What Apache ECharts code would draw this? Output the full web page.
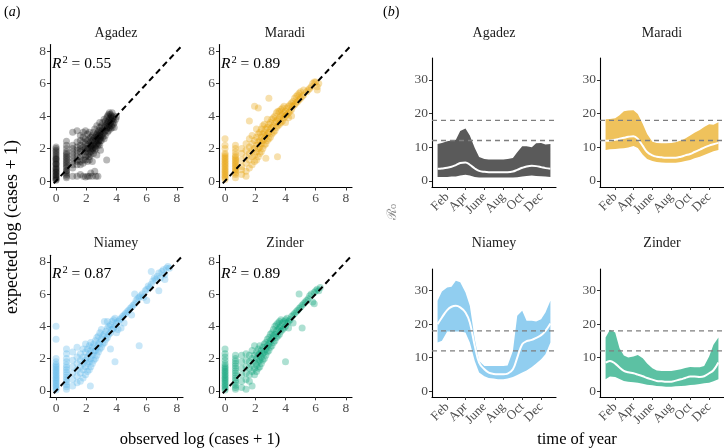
<!DOCTYPE html>
<html><head><meta charset="utf-8">
<script src="https://cdn.jsdelivr.net/npm/echarts@6/dist/echarts.min.js"></script>
<style>html,body{margin:0;padding:0;background:#fff}#c{width:724px;height:448px}</style>
</head><body><div id="c"></div>
<script>
// ---------- DATA ----------
const sites = ['Agadez', 'Maradi', 'Niamey', 'Zinder'];
const r2Values = ['0.55', '0.89', '0.87', '0.89'];
const scatterTicks = [0, 2, 4, 6, 8];
const r0Ticks = [0, 10, 20, 30];
const monthTicks = [32, 91, 152, 213, 274, 335];
const monthLabels = ['Feb', 'Apr', 'June', 'Aug', 'Oct', 'Dec'];
const thresholds = [12, 18];

// observed vs expected log(cases+1)
const agadezPoints = [
[0,0.05],[0,0.1],[0,0.15],[0,0.2],[0,0.3],[0,0.35],[0,0.4],[0,0.5],[0,0.55],[0,0.6],[0,0.7],[0,0.75],[0,0.8],[0,0.9],[0,1.0],[0,1.05],[0,1.1],[0,1.2],[0,1.3],[0,1.35],[0,1.4],[0,1.5],[0,1.6],[0,1.7],[0,1.8],[0,1.9],[0,2.0],[0,2.1],
[0.69,0.2],[0.69,0.3],[0.69,0.4],[0.69,0.5],[0.69,0.6],[0.69,0.65],[0.69,0.8],[0.69,0.9],[0.69,1.0],[0.69,1.1],[0.69,1.2],[0.69,1.3],[0.69,1.4],[0.69,1.5],[0.69,1.6],[0.69,1.7],[0.69,1.8],[0.69,2.0],[0.69,2.2],[0.69,2.45],
[1.1,0.3],[1.1,0.8],[1.1,1.2],[1.1,1.4],[1.1,1.6],[1.1,1.8],[1.1,2.0],[1.1,2.2],[1.1,1.0],[1.1,3.0],
[1.39,0.3],[1.39,1.0],[1.39,1.3],[1.39,1.5],[1.39,1.7],[1.39,1.9],[1.39,2.1],[1.39,2.4],[1.39,3.1],[1.39,1.2],
[1.61,0.4],[1.61,1.2],[1.61,1.5],[1.61,1.8],[1.61,2.0],[1.61,2.2],[1.61,2.5],[1.61,1.0],[1.61,2.8],
[1.79,0.3],[1.79,1.3],[1.79,1.6],[1.79,1.9],[1.79,2.1],[1.79,2.4],[1.79,2.7],[1.79,3.0],[1.79,1.1],
[1.95,0.25],[1.95,1.5],[1.95,1.8],[1.95,2.0],[1.95,2.3],[1.95,1.3],[1.95,2.6],[1.95,3.1],
[2.08,0.3],[2.08,1.6],[2.08,1.9],[2.08,2.2],[2.08,2.5],[2.08,2.0],[2.08,1.2],[2.08,2.9],
[2.2,0.3],[2.2,1.7],[2.2,2.0],[2.2,2.3],[2.2,1.5],[2.2,2.6],[2.2,3.0],[2.2,1.3],
[2.3,0.5],[2.3,1.8],[2.3,2.1],[2.3,2.4],[2.3,2.7],[2.3,2.2],[2.3,1.6],
[2.4,0.3],[2.4,1.9],[2.4,2.2],[2.4,2.5],[2.4,2.0],[2.4,2.8],[2.4,1.2],
[2.48,2.0],[2.48,2.3],[2.48,2.6],[2.48,1.7],[2.48,3.0],
[2.56,2.1],[2.56,2.4],[2.56,2.7],[2.56,0.6],[2.56,1.9],[2.56,3.2],
[2.64,0.3],[2.64,2.2],[2.64,2.5],[2.64,2.8],[2.64,2.0],
[2.7,2.3],[2.7,2.6],[2.7,2.9],[2.7,1.6],[2.7,3.4],
[2.77,2.4],[2.77,2.7],[2.77,2.2],[2.77,3.0],[2.77,0.3],
[2.83,2.5],[2.83,2.8],[2.83,3.1],[2.83,2.3],
[2.89,2.6],[2.89,2.9],[2.89,3.3],[2.89,2.2],[2.89,3.6],
[2.94,2.7],[2.94,3.0],[2.94,2.5],[2.94,1.9],
[3.0,2.8],[3.0,3.1],[3.0,3.4],[3.0,2.5],
[3.09,2.9],[3.09,3.2],[3.09,3.6],[3.09,2.7],
[3.18,3.0],[3.18,3.3],[3.18,2.6],[3.18,3.8],
[3.26,3.1],[3.26,3.4],[3.26,3.7],[3.26,2.8],
[3.35,3.2],[3.35,3.5],[3.35,1.3],[3.35,3.9],
[3.4,3.3],[3.4,3.6],[3.4,4.0],[3.4,3.0],
[3.47,3.4],[3.47,3.7],[3.47,4.1],[3.47,3.1],
[3.53,3.5],[3.53,3.8],[3.53,4.2],[3.53,3.3],
[3.6,3.6],[3.6,3.9],[3.6,3.2],[3.6,4.1],
[3.66,3.7],[3.66,4.0],[3.66,3.4],
[3.71,3.8],[3.71,3.3],[3.71,4.2],
[3.78,3.5],[3.78,3.9],[3.78,3.7],
[3.85,3.6],[3.85,4.0],[3.85,3.3],
[3.95,3.8],[4.0,3.95]
];
const maradiPoints = [
[0,0.1],[0,0.2],[0,0.3],[0,0.4],[0,0.5],[0,0.6],[0,0.7],[0,0.8],[0,0.9],[0,1.0],[0,1.1],[0,1.2],[0,1.3],[0,1.4],[0,1.5],[0,1.6],[0,1.7],[0,2.0],[0,2.2],[0,2.6],
[0.69,0.2],[0.69,0.4],[0.69,0.5],[0.69,0.6],[0.69,0.7],[0.69,0.8],[0.69,0.9],[0.69,1.0],[0.69,1.1],[0.69,1.2],[0.69,1.3],[0.69,1.4],[0.69,1.5],[0.69,1.6],[0.69,1.8],[0.69,2.0],[0.69,2.2],
[1.1,0.4],[1.1,0.9],[1.1,1.3],[1.1,1.7],[1.1,2.0],[1.1,0.7],[1.39,0.6],[1.39,1.1],[1.39,1.5],[1.39,1.9],[1.39,2.3],[1.39,0.3],
[1.61,0.8],[1.61,1.3],[1.61,1.7],[1.61,2.1],[1.61,2.6],[1.61,3.7],[1.79,1.0],[1.79,1.5],[1.79,1.9],[1.79,2.3],[1.79,2.8],
[1.95,1.2],[1.95,1.6],[1.95,2.0],[1.95,2.5],[1.95,4.6],[2.08,1.3],[2.08,1.8],[2.08,2.2],[2.08,2.7],[2.08,3.2],
[2.2,1.5],[2.2,2.0],[2.2,2.4],[2.2,2.9],[2.2,4.5],[2.3,1.7],[2.3,2.1],[2.3,2.5],[2.3,3.0],[2.4,1.8],[2.4,2.3],[2.4,2.7],[2.4,3.2],
[2.5,2.0],[2.5,2.5],[2.5,2.9],[2.5,3.4],[2.6,2.2],[2.6,2.6],[2.6,3.0],[2.6,3.5],[2.7,2.3],[2.7,2.8],[2.7,3.2],[2.7,1.4],
[2.8,2.5],[2.8,2.9],[2.8,3.3],[2.8,3.8],[2.9,2.6],[2.9,3.0],[2.9,3.5],[2.9,5.1],[3.0,2.7],[3.0,3.2],[3.0,3.6],
[3.1,2.9],[3.1,3.3],[3.1,3.8],[3.2,3.0],[3.2,3.4],[3.2,3.9],[3.3,3.1],[3.3,3.6],[3.3,4.0],[3.4,3.3],[3.4,3.7],[3.4,4.2],[3.47,1.5],
[3.5,3.4],[3.5,3.8],[3.5,4.3],[3.6,3.5],[3.6,3.9],[3.6,4.3],[3.7,3.6],[3.7,4.0],[3.7,4.4],[3.8,3.7],[3.8,4.1],[3.8,4.5],
[3.9,3.9],[3.9,4.2],[3.9,4.6],[4.0,4.0],[4.0,4.3],[4.0,3.6],[4.1,4.1],[4.1,4.5],[4.2,4.2],[4.2,4.6],[4.2,3.9],
[4.3,4.3],[4.3,4.7],[4.4,4.4],[4.4,4.8],[4.4,4.0],[4.5,4.6],[4.5,4.9],[4.6,4.7],[4.6,5.1],[4.7,4.8],[4.7,5.2],
[4.8,4.9],[4.8,5.3],[4.9,5.0],[4.9,5.4],[5.0,5.1],[5.0,5.5],[5.1,5.2],[5.2,5.3],[5.2,5.6],[5.4,5.5],[5.5,5.6],
[5.6,5.7],[5.7,5.8],[5.8,6.0],[5.9,6.1],[6.0,6.1],[6.1,5.8],[6.2,6.0],[6.1,5.6]
];
const niameyPoints = [
[0,0.05],[0,0.15],[0,0.25],[0,0.35],[0,0.45],[0,0.55],[0,0.65],[0,0.75],[0,0.85],[0,0.95],[0,1.05],[0,1.15],[0,1.25],[0,1.35],[0,1.45],[0,1.55],[0,1.65],[0,1.8],[0,2.0],[0,3.2],[0,4.0],
[0.69,0.1],[0.69,0.25],[0.69,0.4],[0.69,0.55],[0.69,0.7],[0.69,0.85],[0.69,1.0],[0.69,1.15],[0.69,1.3],[0.69,1.45],[0.69,1.6],[0.69,1.8],[0.69,2.0],[0.69,2.3],[0.69,2.6],
[1.1,0.3],[1.1,0.7],[1.1,1.1],[1.1,1.5],[1.1,1.9],[1.1,2.4],[1.39,0.5],[1.39,0.9],[1.39,1.3],[1.39,1.7],[1.39,2.1],[1.39,2.7],
[1.61,0.6],[1.61,1.1],[1.61,1.5],[1.61,1.9],[1.61,2.3],[1.79,0.8],[1.79,1.3],[1.79,1.7],[1.79,2.1],[1.79,2.6],
[1.95,1.0],[1.95,1.5],[1.95,1.9],[1.95,2.4],[1.95,2.9],[2.08,1.2],[2.08,1.7],[2.08,2.1],[2.08,2.6],
[2.2,1.3],[2.2,1.8],[2.2,2.3],[2.2,2.8],[2.27,0.3],[2.3,1.5],[2.3,2.0],[2.3,2.5],[2.3,3.0],[2.4,1.7],[2.4,2.2],[2.4,2.7],
[2.5,1.9],[2.5,2.4],[2.5,2.9],[2.6,2.0],[2.6,2.5],[2.6,3.1],[2.7,2.2],[2.7,2.7],[2.7,3.3],[2.8,2.4],[2.8,2.9],[2.8,3.4],
[2.9,2.6],[2.9,3.0],[2.9,3.6],[3.0,2.7],[3.0,3.2],[3.0,3.8],[3.1,2.9],[3.1,3.4],[3.2,3.0],[3.2,3.5],[3.2,4.3],
[3.3,3.2],[3.3,3.7],[3.4,3.3],[3.4,3.9],[3.4,4.3],[3.5,3.5],[3.5,4.0],[3.6,3.6],[3.6,4.1],[3.6,2.6],[3.7,3.8],[3.7,4.3],
[3.8,3.9],[3.8,4.4],[3.9,1.8],[3.9,4.0],[3.9,4.5],[4.0,4.2],[4.0,3.6],[4.1,4.3],[4.1,3.8],[4.2,4.4],[4.3,4.5],[4.3,3.9],
[4.4,4.6],[4.5,4.7],[4.5,4.2],[4.6,4.8],[4.7,4.9],[4.8,5.0],[4.9,5.1],[5.0,5.2],[5.0,4.7],[5.1,5.3],[5.2,5.4],[5.3,5.6],
[5.4,5.7],[5.5,2.8],[5.5,5.8],[5.6,5.9],[5.7,6.0],[5.8,5.8],[5.9,6.2],[6.0,6.3],[6.0,5.6],[6.1,6.5],[6.2,6.4],[6.3,6.6],
[6.4,6.8],[6.5,7.0],[6.6,6.9],[6.7,7.1],[6.8,7.3],[6.9,7.0],[7.0,7.4],[7.1,7.5],[7.2,7.2],[7.3,7.6],[7.4,7.7],[7.5,7.6],
[6.3,7.4],[5.2,6.0],[6.8,6.2],[7.2,6.9]
];
const zinderPoints = [
[0,0.05],[0,0.15],[0,0.25],[0,0.35],[0,0.45],[0,0.55],[0,0.65],[0,0.75],[0,0.85],[0,0.95],[0,1.05],[0,1.15],[0,1.25],[0,1.35],[0,1.45],[0,1.55],[0,1.7],[0,1.9],[0,2.1],[0,2.3],[0,2.6],
[0.69,0.1],[0.69,0.2],[0.69,0.35],[0.69,0.5],[0.69,0.65],[0.69,0.8],[0.69,0.95],[0.69,1.1],[0.69,1.25],[0.69,1.4],[0.69,1.55],[0.69,1.7],[0.69,1.85],[0.69,2.0],[0.69,2.2],
[1.1,0.2],[1.1,0.6],[1.1,1.0],[1.1,1.4],[1.1,1.8],[1.1,2.2],[1.39,0.1],[1.39,0.7],[1.39,1.1],[1.39,1.5],[1.39,1.9],[1.39,2.3],
[1.61,0.6],[1.61,1.0],[1.61,1.4],[1.61,1.8],[1.61,2.2],[1.79,0.3],[1.79,1.2],[1.79,1.6],[1.79,2.0],[1.79,2.5],
[1.95,1.0],[1.95,1.4],[1.95,1.8],[1.95,2.2],[1.95,2.8],[2.08,1.2],[2.08,1.6],[2.08,2.0],[2.08,2.4],
[2.2,1.4],[2.2,1.8],[2.2,2.2],[2.2,2.6],[2.3,1.5],[2.3,1.9],[2.3,2.3],[2.3,2.8],[2.4,1.7],[2.4,2.1],[2.4,2.5],
[2.5,1.9],[2.5,2.3],[2.5,2.7],[2.6,2.0],[2.6,2.4],[2.6,2.9],[2.7,2.2],[2.7,2.6],[2.7,3.0],[2.8,2.4],[2.8,2.8],[2.8,3.2],
[2.9,2.5],[2.9,2.9],[2.9,3.3],[3.0,2.7],[3.0,3.1],[3.0,3.5],[3.1,2.8],[3.1,3.2],[3.1,3.6],[3.2,3.0],[3.2,3.4],[3.2,3.8],
[3.3,3.1],[3.3,3.5],[3.3,4.0],[3.4,3.3],[3.4,3.7],[3.4,4.1],[3.5,3.4],[3.5,3.8],[3.5,4.2],[3.6,3.5],[3.6,3.9],[3.6,4.3],
[3.7,3.7],[3.7,4.0],[3.7,4.4],[3.8,3.8],[3.8,4.2],[3.9,3.9],[3.9,4.3],[4.0,1.8],[4.0,4.0],[4.0,4.4],[4.1,4.2],[4.1,4.5],
[4.2,4.3],[4.2,3.9],[4.3,4.4],[4.4,4.6],[4.5,4.7],[4.5,4.2],[4.6,4.8],[4.7,4.9],[4.8,5.0],[4.9,6.0],[4.9,5.1],[5.0,5.2],
[5.1,3.9],[5.1,5.3],[5.2,5.4],[5.3,5.5],[5.4,5.6],[5.5,5.7],[5.6,5.9],[5.7,6.0],[5.8,5.5],[5.9,5.4],[5.9,6.1],[6.0,6.2],
[6.1,6.3],[6.2,6.2],[6.3,6.4]
];

// seasonal R0 (day of year) : 95% band and median
const days = [1, 15, 32, 46, 60, 74, 91, 105, 121, 135, 152, 166, 182, 196, 213, 227, 244, 258, 274, 288, 305, 319, 335, 349, 365];
const agadezUpper  = [11.0, 11.3, 11.8, 12.0, 12.2, 14.8, 15.6, 13.5, 9.8, 7.1, 6.5, 6.4, 6.4, 6.4, 6.4, 6.5, 6.8, 8.5, 10.3, 10.3, 10.0, 11.2, 11.3, 10.8, 11.0];
const agadezLower  = [1.2, 1.2, 1.2, 1.3, 1.3, 1.6, 1.8, 1.6, 1.2, 1.0, 1.0, 1.0, 1.0, 1.0, 1.0, 1.0, 1.0, 1.1, 1.3, 1.5, 1.6, 1.5, 1.4, 1.3, 1.2];
const agadezMedian = [3.6, 3.7, 3.9, 4.2, 4.7, 5.3, 5.5, 4.8, 3.7, 3.0, 2.7, 2.6, 2.6, 2.6, 2.6, 2.6, 2.8, 3.3, 3.9, 4.3, 4.5, 4.4, 4.1, 3.8, 3.6];
const maradiUpper  = [18.3, 18.4, 18.6, 19.5, 20.7, 20.9, 21.0, 19.9, 16.9, 13.9, 11.6, 11.3, 11.2, 11.2, 11.3, 11.5, 12.0, 12.6, 13.5, 14.3, 15.1, 16.0, 16.8, 16.7, 17.4];
const maradiLower  = [9.2, 9.4, 9.5, 9.6, 9.7, 9.9, 10.4, 9.8, 7.8, 6.5, 5.9, 5.6, 5.5, 5.4, 5.4, 5.4, 5.6, 5.9, 6.2, 6.7, 7.2, 7.7, 8.3, 8.8, 9.2];
const maradiMedian = [11.9, 12.0, 12.2, 12.5, 12.8, 13.1, 13.3, 12.5, 10.4, 8.6, 7.6, 7.2, 7.0, 6.9, 6.9, 6.9, 7.2, 7.6, 8.0, 8.6, 9.3, 9.9, 10.5, 10.9, 11.3];
const niameyUpper  = [27.0, 29.8, 31.0, 31.2, 33.0, 32.5, 29.5, 25.5, 15.5, 9.0, 7.5, 7.5, 7.5, 7.5, 7.5, 7.6, 12.0, 22.5, 24.0, 21.0, 21.0, 20.8, 21.5, 23.5, 27.0];
const niameyLower  = [14.5, 15.0, 17.8, 17.8, 17.8, 17.8, 17.5, 14.5, 9.0, 5.5, 4.4, 3.9, 3.7, 3.5, 3.5, 3.7, 4.2, 4.8, 5.5, 6.1, 7.2, 8.2, 9.5, 11.0, 14.5];
const niameyMedian = [20.0, 22.0, 24.2, 25.2, 25.5, 25.0, 23.5, 20.5, 13.5, 8.5, 6.5, 5.5, 5.1, 5.0, 5.0, 5.2, 6.5, 10.0, 14.0, 14.9, 15.3, 15.9, 16.7, 18.0, 20.2];
const zinderUpper  = [16.0, 18.3, 17.5, 12.8, 10.6, 10.0, 10.3, 10.8, 9.8, 8.2, 6.8, 6.1, 6.0, 6.0, 6.0, 6.2, 6.5, 6.9, 7.2, 7.1, 7.1, 7.5, 10.3, 13.8, 16.0];
const zinderLower  = [3.5, 4.3, 4.2, 3.6, 3.0, 2.8, 2.6, 2.5, 2.2, 1.9, 1.7, 1.5, 1.4, 1.3, 1.3, 1.4, 1.5, 1.6, 1.8, 1.9, 2.1, 2.3, 2.5, 2.9, 3.5];
const zinderMedian = [8.5, 9.0, 8.2, 7.0, 6.0, 5.6, 5.3, 4.9, 4.4, 3.9, 3.4, 3.0, 2.9, 2.8, 2.8, 3.1, 3.5, 3.9, 4.3, 4.3, 4.2, 4.4, 5.3, 6.2, 8.5];

// ---------- STYLE / LAYOUT ----------
const FONT = 'Liberation Serif';
const pointColors = ['rgba(0,0,0,0.35)', 'rgba(230,159,0,0.4)', 'rgba(86,180,233,0.4)', 'rgba(0,158,115,0.4)'];
const ribbonColors = ['#5a5a5a', '#EFC25C', '#91CEF0', '#5CC1A3'];
const allPoints = [agadezPoints, maradiPoints, niameyPoints, zinderPoints];
const uppers = [agadezUpper, maradiUpper, niameyUpper, zinderUpper];
const lowers = [agadezLower, maradiLower, niameyLower, zinderLower];
const medians = [agadezMedian, maradiMedian, niameyMedian, zinderMedian];

const gridsA = [
  {left: 50, top: 44.5, width: 133, height: 143},
  {left: 219, top: 44.5, width: 133, height: 143},
  {left: 50, top: 255.3, width: 133, height: 142},
  {left: 219, top: 255.3, width: 133, height: 142}
];
const gridsB = [
  {left: 432, top: 58, width: 124, height: 129},
  {left: 600, top: 58, width: 124, height: 129},
  {left: 432, top: 269, width: 124, height: 128},
  {left: 600, top: 269, width: 124, height: 128}
];

const grid = [], xAxis = [], yAxis = [], series = [];
function axis(gi, min, max, ticks, extra) {
  return Object.assign({
    gridIndex: gi, type: 'value', min: min, max: max,
    axisLine: {show: true, onZero: false, lineStyle: {color: '#000', width: 1.1}},
    axisTick: {show: true, length: 3, customValues: ticks, lineStyle: {color: '#333', width: 1}},
    axisLabel: {customValues: ticks, color: '#4d4d4d', fontFamily: FONT, fontSize: 13.5, margin: 4, hideOverlap: false},
    splitLine: {show: false}
  }, extra || {});
}

for (let i = 0; i < 4; i++) {
  const g = gridsA[i];
  grid.push({left: g.left, top: g.top, width: g.width, height: g.height, containLabel: false});
  const gi = grid.length - 1;
  xAxis.push(axis(gi, -0.4, 8.4, scatterTicks));
  yAxis.push(axis(gi, -0.4, 8.4, scatterTicks));
  series.push({type: 'scatter', xAxisIndex: gi, yAxisIndex: gi, data: allPoints[i], symbolSize: 7,
    itemStyle: {color: pointColors[i]}, silent: true, z: 2});
  series.push({type: 'line', xAxisIndex: gi, yAxisIndex: gi, data: [[-0.15, -0.15], [8.35, 8.35]],
    showSymbol: false, lineStyle: {color: '#000', width: 2, type: [6, 4]}, silent: true, z: 3});
}
for (let i = 0; i < 4; i++) {
  const g = gridsB[i];
  grid.push({left: g.left, top: g.top, width: g.width, height: g.height, containLabel: false});
  const gi = grid.length - 1;
  xAxis.push(axis(gi, -17, 383, monthTicks, {
    axisLabel: {customValues: monthTicks, rotate: 45, color: '#4d4d4d', fontFamily: FONT, fontSize: 13, margin: 8,
      hideOverlap: false, interval: 0, formatter: v => monthLabels[monthTicks.indexOf(v)] || ''}
  }));
  yAxis.push(axis(gi, -1.8, 36.5, r0Ticks));
  const up = uppers[i], lo = lowers[i], col = ribbonColors[i];
  series.push({type: 'custom', xAxisIndex: gi, yAxisIndex: gi, data: [[days[0], lo[0]]], silent: true, z: 2,
    renderItem: function (params, api) {
      const pts = [];
      for (let k = 0; k < days.length; k++) pts.push(api.coord([days[k], up[k]]));
      for (let k = days.length - 1; k >= 0; k--) pts.push(api.coord([days[k], lo[k]]));
      return {type: 'polygon', shape: {points: pts}, style: {fill: col, stroke: null}};
    }});
  series.push({type: 'line', xAxisIndex: gi, yAxisIndex: gi, data: days.map((d, k) => [d, medians[i][k]]),
    smooth: 0.4, showSymbol: false, lineStyle: {color: '#fff', width: 2}, silent: true, z: 3});
  thresholds.forEach(t => {
    series.push({type: 'line', xAxisIndex: gi, yAxisIndex: gi, data: [[-17, t], [383, t]],
      showSymbol: false, lineStyle: {color: '#7f7f7f', width: 1.3, type: [5, 4]}, silent: true, z: 4});
  });
}

// ---------- TEXT ----------
const graphic = [];
function txt(x, y, text, opts) {
  graphic.push(Object.assign({type: 'text', x: x, y: y, silent: true,
    style: Object.assign({text: text, fontFamily: FONT, fontSize: 14, fill: '#1a1a1a', align: 'center', verticalAlign: 'middle'}, opts || {})}));
}
const titlePosA = [[116, 33], [285, 33], [116, 243], [285, 243]];
const titlePosB = [[494, 33], [662, 33], [494, 243], [662, 243]];
sites.forEach((s, i) => { txt(titlePosA[i][0], titlePosA[i][1], s); txt(titlePosB[i][0], titlePosB[i][1], s); });

const r2Pos = [[52, 64], [221, 64], [52, 274], [221, 274]];
r2Values.forEach((v, i) => {
  graphic.push({type: 'text', x: r2Pos[i][0], y: r2Pos[i][1], silent: true,
    style: {text: '{r|R}{s|2}{n| = ' + v + '}', align: 'left', verticalAlign: 'middle',
      rich: {r: {fontFamily: FONT, fontStyle: 'italic', fontSize: 15.5, fill: '#000'},
             s: {fontFamily: FONT, fontSize: 10.5, fill: '#000', verticalAlign: 'top', padding: [0, 0, 8, 1]},
             n: {fontFamily: FONT, fontSize: 15.5, fill: '#000'}}}});
});

graphic.push({type: 'text', x: 4, y: 12, silent: true, style: {text: '{p|(}{i|a}{p|)}', align: 'left', verticalAlign: 'middle',
  rich: {p: {fontFamily: FONT, fontSize: 14, fill: '#000'}, i: {fontFamily: FONT, fontSize: 14, fontStyle: 'italic', fill: '#000'}}}});
graphic.push({type: 'text', x: 383, y: 12, silent: true, style: {text: '{p|(}{i|b}{p|)}', align: 'left', verticalAlign: 'middle',
  rich: {p: {fontFamily: FONT, fontSize: 14, fill: '#000'}, i: {fontFamily: FONT, fontSize: 14, fontStyle: 'italic', fill: '#000'}}}});

txt(200, 440, 'observed log (cases + 1)', {fontSize: 16.5, fill: '#000'});
txt(577, 440, 'time of year', {fontSize: 16.5, fill: '#000'});
graphic.push({type: 'text', x: 12, y: 227, rotation: Math.PI / 2, silent: true,
  style: {text: 'expected log (cases + 1)', fontFamily: FONT, fontSize: 18, fill: '#000', align: 'center', verticalAlign: 'middle'}});
graphic.push({type: 'text', x: 393, y: 212, rotation: Math.PI / 2, silent: true,
  style: {text: 'ℛ₀', fontFamily: 'DejaVu Serif', fontSize: 13, fill: '#8a8a8a', align: 'center', verticalAlign: 'middle'}});

const chart = echarts.init(document.getElementById('c'), null, {renderer: 'canvas'});
chart.setOption({animation: false, backgroundColor: '#fff', grid, xAxis, yAxis, series, graphic});
</script></body></html>
